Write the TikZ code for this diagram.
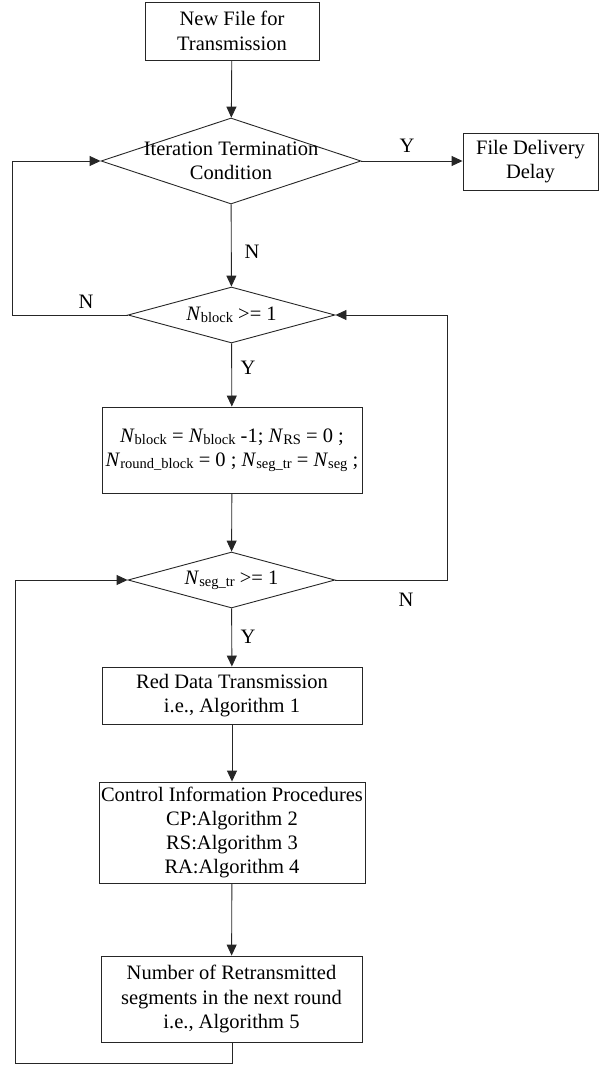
\documentclass[tikz,border=0pt]{standalone}
\usepackage{fontspec}
\setmainfont{Liberation Serif}
\usetikzlibrary{arrows.meta,shapes.geometric}
\newcommand{\Nsub}[1]{\textit{N}\raisebox{-2pt}{\fontsize{14.5}{14.5}\selectfont #1}}
\begin{document}
\begin{tikzpicture}[x=1pt,y=-1pt,
  every node/.style={font=\fontsize{20.5}{24.3}\selectfont},
  boxnode/.style={draw=black!85, line width=0.9pt, rectangle, inner sep=0pt, align=center},
  decision/.style={draw=black!85, line width=0.9pt, diamond, inner sep=0pt, aspect=1},
  txt/.style={align=center, inner sep=0pt},
  flow/.style={draw=black!85, line width=0.9pt, -{Triangle[length=11pt,width=10pt]}},
  plainline/.style={draw=black!85, line width=0.9pt}
]
\useasboundingbox (0,0) rectangle (599,1065);

% boxes
\node[boxnode, minimum width=174pt, minimum height=58pt] (b1) at (232,31) {New File for\\Transmission};
\node[boxnode, minimum width=135pt, minimum height=57pt] (fdd) at (530.5,161.5) {File Delivery\\Delay};
\node[boxnode, minimum width=260pt, minimum height=86pt] (b3) at (232,450)
  {\Nsub{block} = \Nsub{block} -1; \Nsub{RS} = 0 ;\\\Nsub{round\_block} = 0 ; \Nsub{seg\_tr} = \Nsub{seg} ;};
\node[boxnode, minimum width=260pt, minimum height=57pt] (b4) at (232,695.5) {Red Data Transmission\\i.e., Algorithm 1};
\node[boxnode, minimum width=266pt, minimum height=101pt] (b5) at (232,832.5)
  {Control Information Procedures\\CP:Algorithm 2\\RS:Algorithm 3\\RA:Algorithm 4};
\node[boxnode, minimum width=261pt, minimum height=86pt] (b6) at (231.5,999)
  {Number of Retransmitted\\segments in the next round\\i.e., Algorithm 5};

% decisions
\node[decision, minimum width=260pt, minimum height=86pt] (d1) at (231,161) {};
\node[txt] (d1t) at (231,161) {Iteration Termination\\Condition};
\node[decision, minimum width=207pt, minimum height=56pt] (d2) at (231.5,315) {};
\node[txt] (d2t) at (231.5,315) {\Nsub{block} >= 1};
\node[decision, minimum width=207pt, minimum height=56pt] (d3) at (231.5,580) {};
\node[txt] (d3t) at (231.5,580) {\Nsub{seg\_tr} >= 1};

% helper coordinates
\coordinate (l1) at (12,315);
\coordinate (l2) at (12,161);
\coordinate (r1) at (447,580);
\coordinate (r2) at (447,315);
\coordinate (q1) at (232,1063);
\coordinate (q2) at (15,1063);
\coordinate (q3) at (15,580);

% connectors
\draw[flow] (b1) -- (d1);
\draw[flow] (d1.east) -- (fdd.west |- d1.east);
\draw[flow] (d1) -- (d2);
\draw[flow] (d2.west) -- (l1) -- (l2) -- (d1.west);
\draw[flow] (d2) -- (b3);
\draw[flow] (b3) -- (d3);
\draw[flow] (d3.east) -- (r1) -- (r2) -- (d2.east);
\draw[flow] (d3) -- (b4);
\draw[flow] (b4) -- (b5);
\draw[flow] (b5) -- (b6);
\draw[flow] (b6.south -| q1) -- (q1) -- (q2) -- (q3) -- (d3.west);

% labels
\node[txt] (ly1) at (407,146) {Y};
\node[txt] (ln1) at (252,252) {N};
\node[txt] (ln2) at (86,302) {N};
\node[txt] (ly2) at (248,368) {Y};
\node[txt] (ln3) at (406,600) {N};
\node[txt] (ly3) at (248,637) {Y};
\end{tikzpicture}
\end{document}
